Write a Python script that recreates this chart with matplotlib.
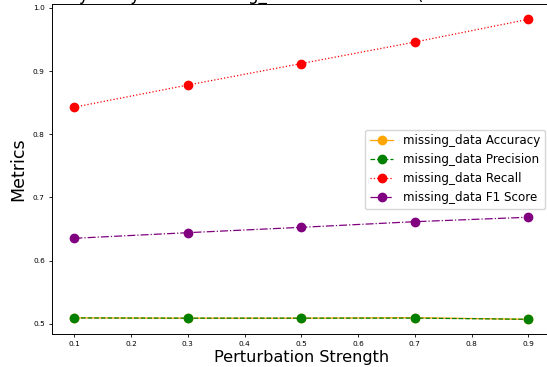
import matplotlib
matplotlib.use("Agg")
import matplotlib.pyplot as plt

strengths = [0.1, 0.3, 0.5, 0.7, 0.9]
accuracy = [0.5095, 0.5090, 0.5090, 0.5097, 0.5072]
precision = [0.5093, 0.5090, 0.5090, 0.5091, 0.5072]
recall = [0.843, 0.878, 0.912, 0.946, 0.982]
f1_score = [0.6354, 0.6443, 0.6528, 0.6617, 0.6687]

series = [
    ("missing_data Accuracy", accuracy, "orange", "-"),
    ("missing_data Precision", precision, "green", "--"),
    ("missing_data Recall", recall, "red", ":"),
    ("missing_data F1 Score", f1_score, "purple", "-."),
]
title = "Sensitivity Analysis for missing_data Perturbation (Random Forest)"

fig = plt.figure(figsize=(5.47, 3.67), dpi=100)
ax = fig.add_axes([51.7 / 547, 1 - 334.3 / 367, (551 - 51.7) / 547, (334.3 - 4.3) / 367])

for label, vals, color, ls in series:
    ax.plot(strengths, vals, color=color, linestyle=ls, marker="o",
            markersize=6, linewidth=0.9, label=label)

ax.set_xlabel("Perturbation Strength", fontsize=11.6, labelpad=2)
ax.set_ylabel("Metrics", fontsize=12.5, labelpad=4)
ax.tick_params(axis="both", labelsize=5.3, length=2.5, width=0.6, pad=2.5)
for s in ax.spines.values():
    s.set_linewidth(0.7)

ax.legend(loc="center right", fontsize=8.6, handlelength=2.0, borderaxespad=0.5)

fig.text(3 / 547, 1.0 + 0.3 / 367, title, fontsize=11.9, ha="left", va="baseline")

fig.savefig("out.png", dpi=100)
